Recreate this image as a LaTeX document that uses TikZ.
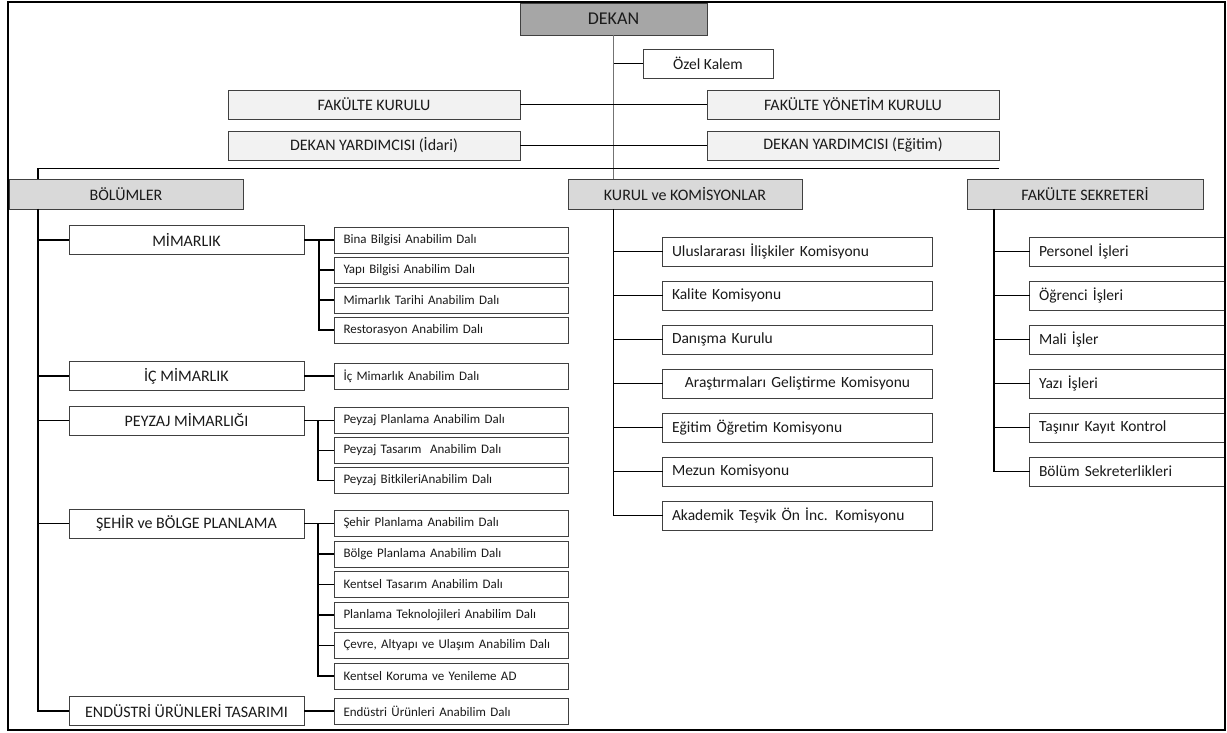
\documentclass[tikz,border=0pt]{standalone}
\usepackage{fontspec}
\setmainfont{Carlito}
\definecolor{dekgray}{HTML}{A6A6A6}
\definecolor{palegray}{HTML}{F2F2F2}
\definecolor{midgray}{HTML}{D9D9D9}
\definecolor{edge}{HTML}{404040}
\definecolor{ink}{HTML}{1A1A1A}
\begin{document}
\begin{tikzpicture}[x=1pt,y=-1pt,
  base/.style={draw=edge, line width=0.9pt, text=ink, inner ysep=0pt, outer sep=0pt, anchor=center},
  cbox/.style={base, align=center, inner xsep=2pt},
  lbox/.style={base, align=left, inner xsep=9.5pt, text width=#1},
  conn/.style={draw=black, line width=1.6pt},
  thinline/.style={draw=black!55, line width=0.8pt},
  frame/.style={draw=black, line width=2.5pt}]
\useasboundingbox (0,0) rectangle (1227,733);
% top level
\node[cbox, fill=dekgray, minimum width=187pt, minimum height=32pt, font=\fontsize{18}{20}\selectfont] (dekan) at (613.5,19) {DEKAN};
\node[cbox, fill=white, minimum width=130pt, minimum height=29pt, font=\fontsize{15.5}{18}\selectfont] (ozel) at (708,63.5) {Özel Kalem};
\node[cbox, fill=palegray, minimum width=292pt, minimum height=29pt, font=\fontsize{16}{19}\selectfont] (fk) at (374,104.5) {FAKÜLTE KURULU};
\node[cbox, fill=palegray, minimum width=292pt, minimum height=29pt, font=\fontsize{16}{19}\selectfont] (fyk) at (853,104.5) {FAKÜLTE YÖNETİM KURULU};
\node[cbox, fill=palegray, minimum width=292pt, minimum height=29pt, font=\fontsize{16}{19}\selectfont] (dyi) at (374,145.5) {DEKAN YARDIMCISI (İdari)};
\node[cbox, fill=palegray, minimum width=292pt, minimum height=29pt, font=\fontsize{16}{19}\selectfont] (dye) at (853,145.5) {DEKAN YARDIMCISI (Eğitim)};
% second level
\node[cbox, fill=midgray, minimum width=234pt, minimum height=30pt, font=\fontsize{16}{19}\selectfont] (bolumler) at (126,194) {BÖLÜMLER};
\node[cbox, fill=midgray, minimum width=234pt, minimum height=30pt, font=\fontsize{16}{19}\selectfont] (kurul) at (685,194) {KURUL ve KOMİSYONLAR};
\node[cbox, fill=midgray, minimum width=236pt, minimum height=30pt, font=\fontsize{16}{19}\selectfont] (sekr) at (1085,194) {FAKÜLTE SEKRETERİ};
% departments
\begin{scope}[every node/.append style={cbox, fill=white, minimum width=235pt, minimum height=29pt, font=\fontsize{16}{19}\selectfont}]
\node (mim) at (186.5,240) {MİMARLIK};
\node (ic) at (186.5,376) {İÇ MİMARLIK};
\node (pey) at (186.5,420.5) {PEYZAJ MİMARLIĞI};
\node (seh) at (186.5,523.5) {ŞEHİR ve BÖLGE PLANLAMA};
\node (end) at (186.5,711) {ENDÜSTRİ ÜRÜNLERİ TASARIMI};
\end{scope}
% anabilim dallari
\begin{scope}[every node/.append style={lbox=215pt, fill=white, minimum height=26pt, font=\fontsize{13}{15}\selectfont}]
\node (a1) at (451,240) {Bina Bilgisi Anabilim Dalı};
\node (a2) at (451,270) {Yapı Bilgisi Anabilim Dalı};
\node (a3) at (451,300) {Mimarlık Tarihi Anabilim Dalı};
\node (a4) at (451,330) {Restorasyon Anabilim Dalı};
\node (ia) at (451,376) {İç Mimarlık Anabilim Dalı};
\node (p1) at (451,420.5) {Peyzaj Planlama Anabilim Dalı};
\node (p2) at (451,450.5) {Peyzaj Tasarım\ \ Anabilim Dalı};
\node (p3) at (451,480.5) {Peyzaj BitkileriAnabilim Dalı};
\node (b1) at (451,523.5) {Şehir Planlama Anabilim Dalı};
\node (b2) at (451,554) {Bölge Planlama Anabilim Dalı};
\node (b3) at (451,584.5) {Kentsel Tasarım Anabilim Dalı};
\node (b4) at (451,615) {Planlama Teknolojileri Anabilim Dalı};
\node (b5) at (451,645.5) {Çevre, Altyapı ve Ulaşım Anabilim Dalı};
\node (b6) at (451,676) {Kentsel Koruma ve Yenileme AD};
\node (ea) at (451,711) {Endüstri Ürünleri Anabilim Dalı};
\end{scope}
% komisyonlar
\begin{scope}[every node/.append style={lbox=251pt, fill=white, minimum height=29pt, font=\fontsize{15.5}{18}\selectfont}]
\node (k1) at (797.5,251.5) {Uluslararası İlişkiler Komisyonu};
\node (k2) at (797.5,295.5) {Kalite Komisyonu};
\node (k3) at (797.5,339.5) {Danışma Kurulu};
\node[align=center] (k4) at (797.5,383.5) {Araştırmaları Geliştirme Komisyonu};
\node (k5) at (797.5,427.5) {Eğitim Öğretim Komisyonu};
\node (k6) at (797.5,471.5) {Mezun Komisyonu};
\node (k7) at (797.5,515.5) {Akademik Teşvik Ön İnc. Komisyonu};
\end{scope}
% sekreterlik
\begin{scope}[every node/.append style={lbox=176pt, fill=white, minimum height=29pt, font=\fontsize{15.5}{18}\selectfont}]
\node (s1) at (1127,251.5) {Personel İşleri};
\node (s2) at (1127,295.5) {Öğrenci İşleri};
\node (s3) at (1127,339.5) {Mali İşler};
\node (s4) at (1127,383.5) {Yazı İşleri};
\node (s5) at (1127,427.5) {Taşınır Kayıt Kontrol};
\node (s6) at (1127,471.5) {Bölüm Sekreterlikleri};
\end{scope}
% connectors: top
\draw[thinline] (dekan.south) -- (dekan.south |- kurul.north);
\draw[conn] (ozel.west) -- (ozel.west -| dekan.south);
\draw[conn] (fk.east) -- (fyk.west);
\draw[conn] (dyi.east) -- (dye.west);
\coordinate (HL) at (38,168.5);
\coordinate (HR) at (999,168.5);
\draw[conn] (HR) -- (HL) -- (HL |- bolumler.north);
% bolumler trunk
\coordinate (LT) at (38,209);
\draw[conn] (LT) |- (end.west);
\foreach \n in {mim,ic,pey,seh} \draw[conn] (\n.west) -- (\n.west -| LT);
% mimarlik
\coordinate (MV) at (319,240);
\draw[conn] (mim.east) -- (a1.west);
\draw[conn] (MV) |- (a4.west);
\foreach \n in {a2,a3} \draw[conn] (\n.west) -- (\n.west -| MV);
\draw[conn] (ic.east) -- (ia.west);
% peyzaj
\coordinate (PV) at (318,420.5);
\draw[conn] (pey.east) -- (p1.west);
\draw[conn] (PV) |- (p3.west);
\draw[conn] (p2.west) -- (p2.west -| PV);
% sehir
\coordinate (SV) at (318,523.5);
\draw[conn] (seh.east) -- (b1.west);
\draw[conn] (SV) |- (b6.west);
\foreach \n in {b2,b3,b4,b5} \draw[conn] (\n.west) -- (\n.west -| SV);
\draw[conn] (end.east) -- (ea.west);
% kurul
\coordinate (KT) at (kurul.south -| dekan.south);
\draw[conn] (KT) |- (k7.west);
\foreach \n in {k1,k2,k3,k4,k5,k6} \draw[conn] (\n.west) -- (\n.west -| KT);
% sekreter
\coordinate (ST) at (994,209);
\draw[conn] (ST) |- (s6.west);
\foreach \n in {s1,s2,s3,s4,s5} \draw[conn] (\n.west) -- (\n.west -| ST);
% frame
\draw[frame] (8,2) rectangle (1225,730);
\end{tikzpicture}
\end{document}
